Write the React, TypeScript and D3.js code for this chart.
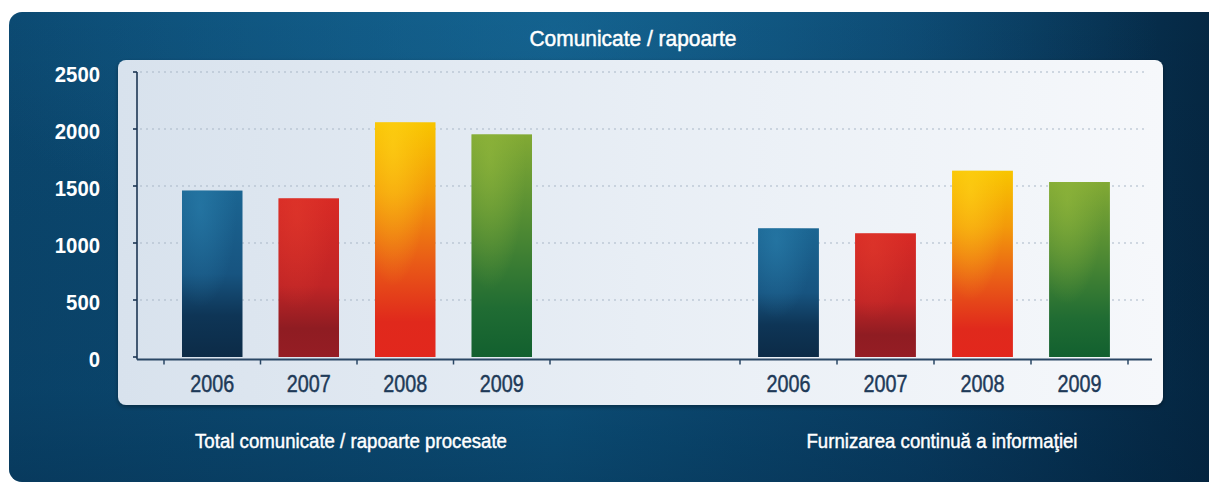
import React from "react";
import * as d3 from "d3";

const years = ["2006", "2007", "2008", "2009"];
const totalValues = [1460, 1392, 2059, 1953];
const furnizareValues = [1129, 1085, 1634, 1535];
const yTicks = [0, 500, 1000, 1500, 2000, 2500];
const groupLabels = ["Total comunicate / rapoarte procesate", "Furnizarea continuă a informaţiei"];
const title = "Comunicate / rapoarte";

const W = 1209;
const H = 483;
const FONT = "'Liberation Sans', Arial, sans-serif";

const barGradients = [
  { id: "g2006", stops: [["0%", "#1b6592"], ["50%", "#175480"], ["75%", "#0e3556"], ["100%", "#0c2b47"]], hi: "#2a7fad" },
  { id: "g2007", stops: [["0%", "#d82a25"], ["55%", "#c02526"], ["82%", "#8f1c22"], ["100%", "#951d24"]], hi: "#e0392c" },
  { id: "g2008", stops: [["0%", "#f8c500"], ["30%", "#f39a0a"], ["60%", "#e95a17"], ["85%", "#e0291c"], ["100%", "#e2271d"]], hi: "#ffd21a" },
  { id: "g2009", stops: [["0%", "#82a934"], ["40%", "#518b33"], ["78%", "#206c33"], ["100%", "#12602f"]], hi: "#92b83c" },
];

export default function App() {
  const y = d3.scaleLinear().domain([0, 2500]).range([357, 72]);
  const p = 0.373;
  const xLeft = d3.scaleBand<string>().domain(years).range([164, 550]).paddingInner(p).paddingOuter(p / 2);
  const xRight = d3.scaleBand<string>().domain(years).range([740, 1128]).paddingInner(p).paddingOuter(p / 2);
  const groups = [
    { x: xLeft, values: totalValues, label: groupLabels[0], cx: 351, len: 312 },
    { x: xRight, values: furnizareValues, label: groupLabels[1], cx: 942, len: 271 },
  ];
  const axisX0 = 137;
  const axisX1 = 1152;
  const axisY = 359.5;

  return (
    <svg width={W} height={H} style={{ position: "absolute", left: 0, top: 0 }} fontFamily={FONT}>
      <defs>
        <linearGradient id="outerBg" x1="0" y1="0" x2="1" y2="0">
          <stop offset="0%" stopColor="#0b4870" />
          <stop offset="45%" stopColor="#0d5580" />
          <stop offset="75%" stopColor="#0a4168" />
          <stop offset="100%" stopColor="#052742" />
        </linearGradient>
        <linearGradient id="outerShade" x1="0" y1="0" x2="0" y2="1">
          <stop offset="0%" stopColor="#000" stopOpacity="0" />
          <stop offset="80%" stopColor="#001a33" stopOpacity="0.15" />
          <stop offset="100%" stopColor="#001a33" stopOpacity="0.3" />
        </linearGradient>
        <radialGradient id="outerGlow" cx="0.45" cy="0.05" r="0.5">
          <stop offset="0%" stopColor="#1a6e9d" stopOpacity="0.55" />
          <stop offset="100%" stopColor="#1a6e9d" stopOpacity="0" />
        </radialGradient>
        <linearGradient id="innerBg" x1="0" y1="0" x2="1" y2="0">
          <stop offset="0%" stopColor="#d8e2ed" />
          <stop offset="50%" stopColor="#e8eef5" />
          <stop offset="100%" stopColor="#f6f8fb" />
        </linearGradient>
        {barGradients.map((g) => (
          <linearGradient key={g.id} id={g.id} x1="0" y1="0" x2="0" y2="1">
            {g.stops.map(([o, c]) => (
              <stop key={o} offset={o} stopColor={c} />
            ))}
          </linearGradient>
        ))}
        {barGradients.map((g) => (
          <radialGradient key={g.id + "h"} id={g.id + "h"} cx="0.3" cy="0.1" r="0.6">
            <stop offset="0%" stopColor={g.hi} stopOpacity="0.6" />
            <stop offset="100%" stopColor={g.hi} stopOpacity="0" />
          </radialGradient>
        ))}
        <filter id="shadow" x="-5%" y="-5%" width="110%" height="120%">
          <feDropShadow dx="0" dy="2" stdDeviation="2" floodColor="#001" floodOpacity="0.35" />
        </filter>
      </defs>

      <rect x={9} y={12} width={1212} height={470} rx={13} fill="url(#outerBg)" />
      <rect x={9} y={12} width={1212} height={470} rx={13} fill="url(#outerGlow)" />
      <rect x={9} y={12} width={1212} height={470} rx={13} fill="url(#outerShade)" />

      <text x={633} y={46} textAnchor="middle" fill="#ffffff" stroke="#ffffff" strokeWidth={0.5} fontSize={22} textLength={207} lengthAdjust="spacingAndGlyphs">
        {title}
      </text>

      <rect x={118} y={60} width={1045} height={345} rx={8} fill="url(#innerBg)" filter="url(#shadow)" />

      {yTicks.filter((t) => t > 0).map((t) => (
        <line key={"g" + t} x1={axisX0 + 3} x2={1145} y1={y(t)} y2={y(t)} stroke="#a9b7c7" strokeWidth={1} strokeDasharray="2,4" />
      ))}

      {groups.map((g, gi) => (
        <g key={"bars" + gi}>
          {years.map((yr, i) => (
            <g key={yr}>
              <rect x={g.x(yr)} y={y(g.values[i])} width={g.x.bandwidth()} height={y(0) - y(g.values[i])} fill={`url(#${barGradients[i].id})`} />
              <rect x={g.x(yr)} y={y(g.values[i])} width={g.x.bandwidth()} height={y(0) - y(g.values[i])} fill={`url(#${barGradients[i].id}h)`} />
            </g>
          ))}
        </g>
      ))}

      <line x1={axisX0} x2={axisX0} y1={y(2500)} y2={axisY} stroke="#1d3653" strokeWidth={1.6} />
      {yTicks.map((t) => (
        <line key={"yt" + t} x1={axisX0 - 4} x2={axisX0} y1={y(t)} y2={y(t)} stroke="#1d3653" strokeWidth={1.6} />
      ))}
      <line x1={axisX0} x2={axisX1} y1={axisY} y2={axisY} stroke="#2a4765" strokeWidth={2} />

      {groups.map((g, gi) => {
        const step = g.x.step();
        const off = (step * p) / 2;
        const bounds = years.map((yr) => (g.x(yr) as number) - off).concat([(g.x(years[years.length - 1]) as number) + g.x.bandwidth() + off]);
        return (
          <g key={"ax" + gi}>
            {bounds.map((b, k) => (
              <line key={k} x1={b} x2={b} y1={axisY} y2={axisY + 5} stroke="#2a4765" strokeWidth={1.5} />
            ))}
            {years.map((yr) => (
              <text key={yr} x={(g.x(yr) as number) + g.x.bandwidth() / 2} y={392} textAnchor="middle" fill="#1e3a58" stroke="#1e3a58" strokeWidth={0.45} fontSize={23} textLength={44} lengthAdjust="spacingAndGlyphs">
                {yr}
              </text>
            ))}
            <text x={g.cx} y={448} textAnchor="middle" fill="#ffffff" stroke="#ffffff" strokeWidth={0.45} fontSize={20.5} textLength={g.len} lengthAdjust="spacingAndGlyphs">
              {g.label}
            </text>
          </g>
        );
      })}

      {yTicks.map((t) => {
        const s = String(t);
        return (
          <text key={"yl" + t} x={100} y={y(t) + 9.5} textAnchor="end" fill="#ffffff" fontSize={22} fontWeight="bold" textLength={s.length * 11.3} lengthAdjust="spacingAndGlyphs">
            {s}
          </text>
        );
      })}
    </svg>
  );
}
